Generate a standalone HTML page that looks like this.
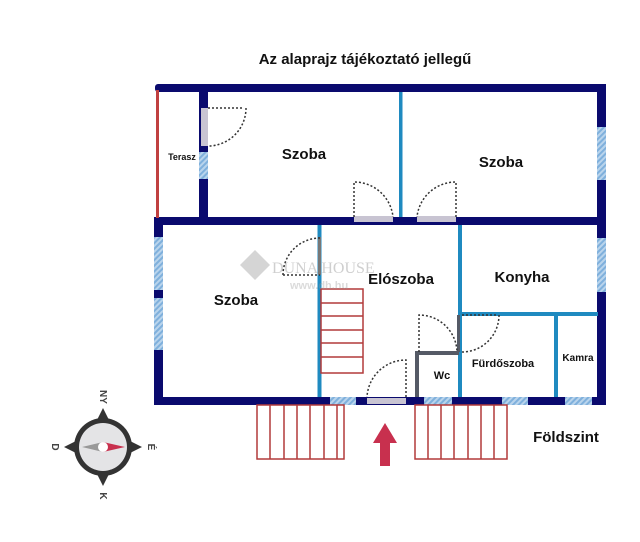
<!DOCTYPE html>
<html><head><meta charset="utf-8"><style>
html,body{margin:0;padding:0;background:#fff;}
svg{display:block;}
text{font-family:"Liberation Sans",sans-serif;font-weight:bold;fill:#111;}
</style></head><body>
<svg width="640" height="542" viewBox="0 0 640 542" xmlns="http://www.w3.org/2000/svg">
<defs>
<pattern id="h" width="4" height="4" patternUnits="userSpaceOnUse" patternTransform="rotate(45)">
<rect width="4" height="4" fill="#b9d4ec"/><rect width="2" height="4" fill="#7fb0dc"/></pattern>
</defs>
<text x="365" y="64" font-size="15" text-anchor="middle">Az alaprajz tájékoztató jellegű</text>
<g fill="#0a0a6e">
<rect x="155" y="84" width="451" height="8" rx="3"/>
<rect x="597" y="84" width="9" height="321"/>
<rect x="154" y="217" width="452" height="8"/>
<rect x="154" y="217" width="9" height="188"/>
<rect x="154" y="397" width="452" height="8"/>
<rect x="199" y="88" width="9" height="132"/>
</g>
<rect x="156" y="90" width="3" height="128" fill="#c04040"/>
<g fill="url(#h)">
<rect x="199" y="152" width="9" height="27"/>
<rect x="597" y="127" width="9" height="53"/>
<rect x="597" y="238" width="9" height="54"/>
<rect x="154" y="237" width="9" height="53"/>
<rect x="154" y="298" width="9" height="52"/>
<rect x="330" y="397" width="26" height="8"/>
<rect x="424" y="397" width="28" height="8"/>
<rect x="502" y="397" width="26" height="8"/>
<rect x="565" y="397" width="27" height="8"/>
</g>
<g fill="#c8c4d2">
<rect x="201" y="108" width="7" height="38"/>
<rect x="354" y="216" width="39" height="6"/>
<rect x="417" y="216" width="39" height="6"/>
<rect x="367" y="398" width="39" height="6"/>
</g>
<g fill="#1f8ac0">
<rect x="399" y="92" width="3.5" height="125"/>
<rect x="317.5" y="225" width="4" height="172"/>
<rect x="458" y="225" width="4" height="172"/>
<rect x="459" y="312" width="139" height="4"/>
<rect x="554" y="312" width="4" height="85"/>
</g>
<rect x="318" y="237" width="3" height="38" fill="#777"/>
<g fill="#555a66">
<rect x="415" y="351" width="4" height="46"/>
<rect x="415" y="351" width="44" height="4"/>
<rect x="457" y="315" width="3" height="37"/>
</g>
<g fill="none" stroke="#333" stroke-width="1.5" stroke-dasharray="2 2">
<path d="M208 108 H242 M246 108 A38 38 0 0 1 208 146"/>
<path d="M354 217 V182 A39 39 0 0 1 393 217"/>
<path d="M456 217 V182 A39 39 0 0 0 417 217"/>
<path d="M283 275 H320 M320 238 A37 37 0 0 0 283 275"/>
<path d="M419 352 V315 A38 38 0 0 1 457 352"/>
<path d="M462 315 H498 M499 315 A37 37 0 0 1 462 352"/>
<path d="M406 397 V360 A39 39 0 0 0 367 397"/>
</g>
<g fill="none" stroke="#b23a3a" stroke-width="1.5">
<rect x="321" y="289" width="42" height="84"/>
<path d="M321 303H363M321 316H363M321 330H363M321 343H363M321 357H363"/>
<rect x="257" y="405" width="87" height="54"/>
<path d="M270 405V459M284 405V459M297 405V459M310 405V459M324 405V459M337 405V459"/>
<rect x="415" y="405" width="92" height="54"/>
<path d="M428 405V459M441 405V459M454 405V459M468 405V459M481 405V459M494 405V459"/>
</g>
<path d="M385 423 L397 443 L390 443 L390 466 L380 466 L380 443 L373 443 Z" fill="#c8304e"/>
<g opacity="0.35">
<path d="M255 250 L270 265 L255 280 L240 265 Z" fill="#888"/>
<text x="272" y="273" font-size="16" style="font-family:'Liberation Serif',serif;font-weight:normal;fill:#777">DUNA HOUSE</text>
<text x="290" y="289" font-size="11" style="fill:#999">www.dh.hu</text>
</g>
<text x="304" y="159" font-size="15" text-anchor="middle">Szoba</text>
<text x="501" y="167" font-size="15" text-anchor="middle">Szoba</text>
<text x="182" y="160" font-size="9" text-anchor="middle">Terasz</text>
<text x="236" y="305" font-size="15" text-anchor="middle">Szoba</text>
<text x="401" y="284" font-size="15" text-anchor="middle">Elószoba</text>
<text x="522" y="282" font-size="15" text-anchor="middle">Konyha</text>
<text x="503" y="367" font-size="11" text-anchor="middle">Fürdőszoba</text>
<text x="578" y="361" font-size="10" text-anchor="middle">Kamra</text>
<text x="442" y="379" font-size="11" text-anchor="middle">Wc</text>
<text x="566" y="442" font-size="15" text-anchor="middle">Földszint</text>
<g transform="translate(103,447)">
<path d="M0 -39 L13 -13 L39 0 L13 13 L0 39 L-13 13 L-39 0 L-13 -13 Z" fill="#333"/>
<circle r="29" fill="#333"/>
<circle r="24" fill="#e4e4e6"/>
<path d="M-21 0 L0 -5 L0 5 Z" fill="#999"/>
<path d="M22 0 L0 -5 L0 5 Z" fill="#c8304e"/>
<circle r="5" fill="#fff"/>
<text x="0" y="-47" font-size="10" text-anchor="middle" transform="rotate(90 0 -50)" style="fill:#444">NY</text>
<text x="48" y="3" font-size="10" text-anchor="middle" transform="rotate(90 48 0)" style="fill:#444">É</text>
<text x="0" y="52" font-size="10" text-anchor="middle" transform="rotate(90 0 49)" style="fill:#444">K</text>
<text x="-48" y="3" font-size="10" text-anchor="middle" transform="rotate(90 -48 0)" style="fill:#444">D</text>
</g>
</svg>
</body></html>
